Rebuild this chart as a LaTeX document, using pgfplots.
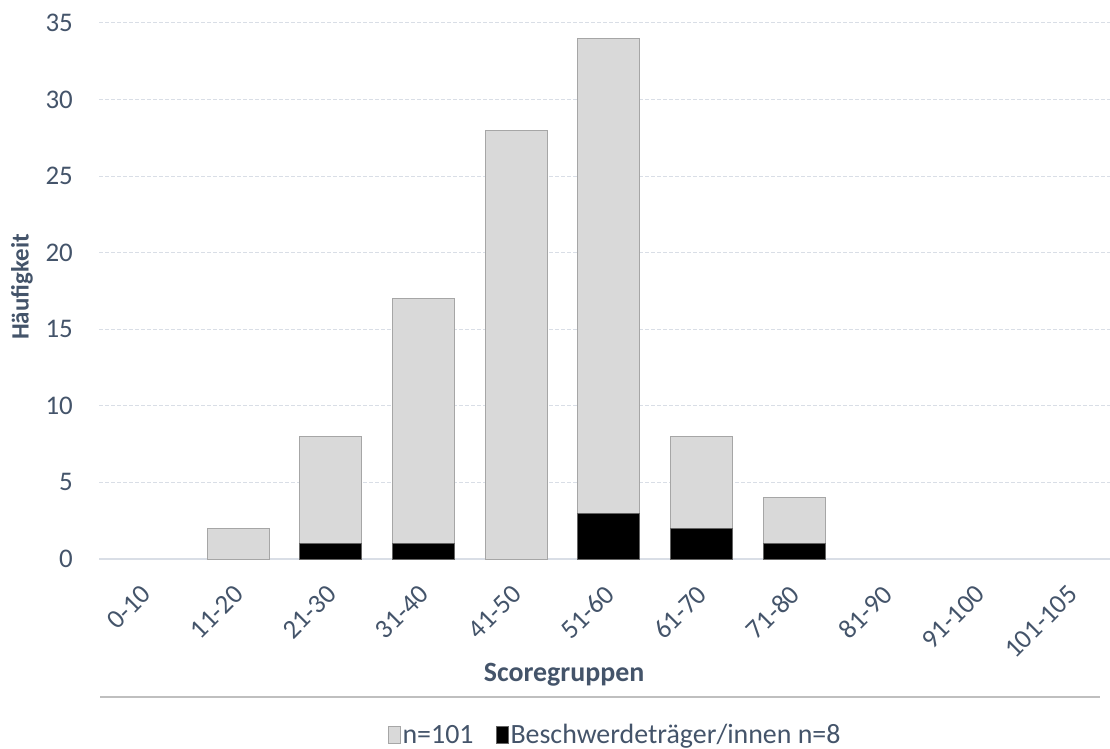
\documentclass[border=0pt]{standalone}
\usepackage{pgfplots}
\pgfplotsset{compat=1.18}
\usepackage{fontspec}
\setmainfont{Carlito}
\definecolor{txt}{HTML}{44546A}
\definecolor{grid}{HTML}{D9DEE6}
\definecolor{barg}{HTML}{D9D9D9}
\definecolor{barb}{HTML}{A6A6A6}
\begin{document}
\begin{tikzpicture}
\useasboundingbox (0,0) rectangle (1110bp,749bp);
\begin{axis}[
  at={(99bp,190bp)}, anchor=south west,
  scale only axis, width=1011bp, height=536bp,
  xmin=-0.5, xmax=10.41, ymin=0, ymax=35,
  ybar, bar width=62bp,
  xtick={0,...,10},
  xticklabels={0-10,11-20,21-30,31-40,41-50,51-60,61-70,71-80,81-90,91-100,101-105},
  ytick={0,5,...,35},
  axis x line*=bottom, axis y line*=left,
  x axis line style={draw=grid, line width=1.2bp, -},
  y axis line style={draw=none},
  major tick length=0pt,
  ymajorgrids, grid style={draw=grid, line width=1bp, dash pattern=on 4bp off 2bp},
  ytick style={draw=none}, xtick style={draw=none},
  /pgf/number format/assume math mode=true,
  tick label style={font=\fontsize{27}{32}\selectfont, text=txt},
  yticklabel style={anchor=east, inner sep=0pt, xshift=-26bp},
  xticklabel style={xshift=1bp, yshift=-31bp, rotate=45, anchor=east, inner sep=0pt},
  xlabel={\bfseries Scoregruppen},
  xlabel style={font=\fontsize{28}{32}\selectfont, text=txt, at={(axis description cs:0.46,0)}, anchor=center, yshift=-116bp},
  ylabel={\bfseries Häufigkeit},
  every axis y label/.style={at={(-77bp,272bp)}, rotate=90, anchor=center, font=\fontsize{25}{30}\selectfont, text=txt},
  clip=false,
  legend style={at={(516bp,-176bp)}, anchor=center, draw=none, fill=none,
    legend columns=2, font=\fontsize{28}{32}\selectfont, text=txt,
    /tikz/every even column/.append style={column sep=20bp},
    legend cell align=left, inner sep=0pt},
  legend image code/.code={\draw[#1] (0bp,-8bp) rectangle (12bp,9bp);},
]
\addplot[fill=barg, draw=barb, line width=1bp, bar shift=0pt] coordinates {
(1,2) (2,8) (3,17) (4,28) (5,34) (6,8) (7,4)};
\addplot[fill=black, draw=barb!60!black, line width=1bp, bar shift=0pt] coordinates {
(2,1) (3,1) (5,3) (6,2) (7,1)};
\legend{n=101, Beschwerdeträger/innen n=8}
\end{axis}
\draw[draw=black!25, line width=2bp] (100bp,52bp) -- (1100bp,52bp);
\end{tikzpicture}
\end{document}
